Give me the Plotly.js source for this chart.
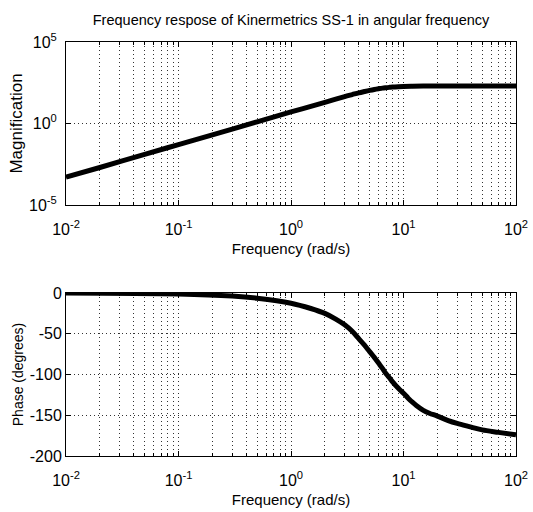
<!DOCTYPE html>
<html>
<head>
<meta charset="utf-8">
<script src="https://cdn.plot.ly/plotly-3.0.1.min.js"></script>
<style>html,body{margin:0;padding:0;background:#fff;}#chart{width:533px;height:512px;}</style>
</head>
<body>
<div id="chart"></div>
<script>
// Magnitude response
var magFreq = [0.01, 0.02, 0.05, 0.1, 0.2, 0.5, 1, 2, 2.5, 3, 3.5, 4, 4.5, 5, 5.5, 6, 6.5, 7, 7.5, 8, 9, 10, 12, 15, 20, 50, 100];
var magValue = [5.1e-4, 2.0e-3, 1.27e-2, 5.1e-2, 0.20, 1.27, 5.1, 20, 31.4, 45, 59.7, 76, 92, 108, 123, 136, 148, 157, 165, 172, 181, 187, 194, 198, 199.5, 200, 200];

// Phase response
var phaseFreq = [0.01, 0.1, 0.3, 0.5, 1, 1.5, 2, 2.5, 3, 3.5, 4, 4.5, 5, 5.5, 6, 6.5, 7, 7.5, 8, 9, 10, 11, 12, 13, 15, 17, 20, 25, 30, 40, 50, 70, 100];
var phaseValue = [-0.1, -1.3, -3.8, -6.4, -12.5, -19, -25, -32, -39, -47, -56, -64, -72, -79, -86, -92.5, -99, -104, -109, -117, -123, -129, -134, -138, -144, -147.5, -151, -156.5, -160, -164.5, -168, -171, -174];

var xTickVals = [0.01, 0.1, 1, 10, 100];
var xTickText = ['10<sup>-2</sup>', '10<sup>-1</sup>', '10<sup>0</sup>', '10<sup>1</sup>', '10<sup>2</sup>'];
var magTickVals = [1e-5, 1, 1e5];
var magTickText = ['10<sup>-5</sup>', '10<sup>0</sup>', '10<sup>5</sup>'];
var phaseTickVals = [-200, -150, -100, -50, 0];
var phaseTickText = ['-200', '-150', '-100', '-50', '0'];

var fam = 'Liberation Sans, Arial, sans-serif';
var tickFont = {family: fam, size: 16, color: '#000'};
var gridDash = '1px,3px';
var gridColor = '#333';

function xAxis(anchor) {
  return {
    type: 'log', range: [-2, 2], anchor: anchor,
    tickmode: 'array', tickvals: xTickVals, ticktext: xTickText,
    ticks: 'inside', ticklen: 5, tickcolor: '#000', ticklabelstandoff: 10,
    showline: true, linecolor: '#000', linewidth: 1, mirror: 'allticks',
    showgrid: true, gridcolor: gridColor, griddash: gridDash, gridwidth: 1,
    minor: {dtick: 'D1', ticks: 'inside', ticklen: 3, tickcolor: '#000', showgrid: true, gridcolor: gridColor, griddash: gridDash, gridwidth: 1},
    tickfont: tickFont, zeroline: false,
    title: {text: 'Frequency (rad/s)', font: {family: fam, size: 15, color: '#000'}, standoff: 6}
  };
}

var data = [
  {x: magFreq, y: magValue, type: 'scatter', mode: 'lines', line: {color: '#000', width: 5, shape: 'spline', smoothing: 1, simplify: false}, xaxis: 'x', yaxis: 'y', hoverinfo: 'skip'},
  {x: phaseFreq, y: phaseValue, type: 'scatter', mode: 'lines', line: {color: '#000', width: 5, shape: 'spline', smoothing: 1, simplify: false}, xaxis: 'x2', yaxis: 'y2', hoverinfo: 'skip'}
];

var layout = {
  width: 533, height: 512,
  margin: {l: 66, r: 17, t: 42, b: 56},
  paper_bgcolor: '#fff', plot_bgcolor: '#fff',
  showlegend: false,
  title: {text: 'Frequency respose of Kinermetrics SS-1 in angular frequency', font: {family: fam, size: 14.5, color: '#000'}, x: 0.546, xanchor: 'center', y: 0.962, yanchor: 'middle'},
  xaxis: xAxis('y'),
  xaxis2: xAxis('y2'),
  yaxis: {
    type: 'log', range: [-5, 5], domain: [0.6063, 1],
    tickmode: 'array', tickvals: magTickVals, ticktext: magTickText,
    ticks: 'inside', ticklen: 5, tickcolor: '#000', ticklabelstandoff: 5,
    showline: true, linecolor: '#000', linewidth: 1, mirror: 'allticks',
    showgrid: true, gridcolor: gridColor, griddash: gridDash,
    tickfont: tickFont, zeroline: false,
    title: {text: 'Magnification', font: {family: fam, size: 17, color: '#000'}, standoff: 2}
  },
  yaxis2: {
    type: 'linear', range: [-200, 0], domain: [0, 0.3937],
    tickmode: 'array', tickvals: phaseTickVals, ticktext: phaseTickText,
    ticks: 'inside', ticklen: 5, tickcolor: '#000', ticklabelstandoff: 0,
    showline: true, linecolor: '#000', linewidth: 1, mirror: 'allticks',
    showgrid: true, gridcolor: gridColor, griddash: gridDash,
    tickfont: tickFont, zeroline: false,
    title: {text: 'Phase (degrees)', font: {family: fam, size: 14, color: '#000'}, standoff: 2}
  }
};

Plotly.newPlot('chart', data, layout, {displayModeBar: false, staticPlot: true});
</script>
</body>
</html>
